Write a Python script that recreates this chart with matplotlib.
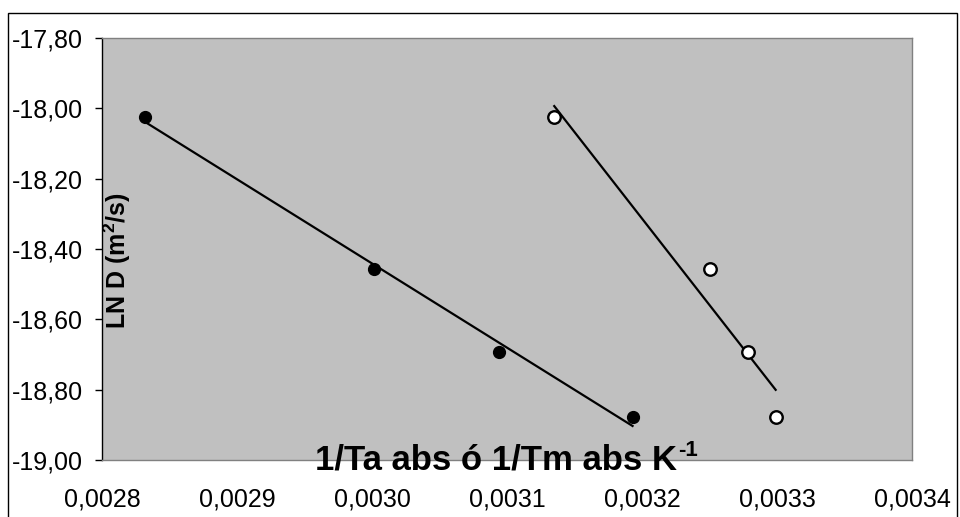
import numpy as np
import matplotlib
matplotlib.use("Agg")
import matplotlib.pyplot as plt
from matplotlib.ticker import FuncFormatter
from matplotlib.patches import Rectangle

# data
x_filled = [0.002832, 0.0030015, 0.003094, 0.003193]
y_filled = [-18.025, -18.457, -18.693, -18.878]
x_open = [0.003135, 0.00325, 0.0032785, 0.003299]
y_open = [-18.025, -18.457, -18.693, -18.878]

x_ticks = [0.0028, 0.0029, 0.0030, 0.0031, 0.0032, 0.0033, 0.0034]
y_ticks = [-19.0, -18.8, -18.6, -18.4, -18.2, -18.0, -17.8]

plt.rcParams['font.family'] = ['Liberation Sans', 'DejaVu Sans']
plt.rcParams['mathtext.fontset'] = 'custom'
plt.rcParams['mathtext.rm'] = 'Liberation Sans:bold'
plt.rcParams['mathtext.it'] = 'Liberation Sans:bold'
plt.rcParams['mathtext.bf'] = 'Liberation Sans:bold'

W, H = 960, 517
fig = plt.figure(figsize=(W / 100, H / 100), dpi=100)
ax = fig.add_axes([102 / W, (H - 460) / H, 810 / W, 422 / H])
ax.set_facecolor('#C0C0C0')

# outer border
fig.patches.append(Rectangle((8 / W, -0.05), (957 - 8) / W, (H - 13) / H + 0.05,
                             transform=fig.transFigure, fill=False,
                             edgecolor='black', linewidth=1.0))

# trendlines
for xs, ys in ((x_filled, y_filled), (x_open, y_open)):
    k, b = np.polyfit(xs, ys, 1)
    xx = np.array([min(xs), max(xs)])
    ax.plot(xx, k * xx + b, color='black', linewidth=1.6, zorder=2)

ax.plot(x_filled, y_filled, linestyle='none', marker='o', markersize=8.5,
        markerfacecolor='black', markeredgecolor='black', zorder=3)
ax.plot(x_open, y_open, linestyle='none', marker='o', markersize=9,
        markerfacecolor='white', markeredgecolor='black', markeredgewidth=1.7,
        zorder=3)

ax.set_xlim(0.0028, 0.0034)
ax.set_ylim(-19.0, -17.8)
ax.set_xticks(x_ticks)
ax.set_yticks(y_ticks)
ax.xaxis.set_major_formatter(FuncFormatter(lambda v, p: f"{v:.4f}".replace('.', ',')))
ax.yaxis.set_major_formatter(FuncFormatter(lambda v, p: f"{v:.2f}".replace('.', ',')))
ax.tick_params(axis='x', length=0, pad=20, labelsize=18)
ax.tick_params(axis='y', length=5, width=1, direction='out', pad=9, labelsize=18,
               color='black')

for s in ('top', 'right', 'bottom'):
    ax.spines[s].set_color('#808080')
    ax.spines[s].set_linewidth(1)
ax.spines['left'].set_color('black')
ax.spines['left'].set_linewidth(1)

# y label inside plot area
fig.text(117 / W, (H - 261) / H, r'LN D (m$^{2}$/s)',
         rotation=90, ha='center', va='center', fontsize=18, fontweight='bold')

# x label overlapping the bottom edge, with a hyphen superscript
renderer = fig.canvas.get_renderer()
main = fig.text(315 / W, (H - 470) / H, '1/Ta abs ó 1/Tm abs K',
                ha='left', va='baseline', fontsize=25, fontweight='bold')
bb = main.get_window_extent(renderer=renderer)
fig.text((bb.x1 + 1) / W, (H - 470 + 14) / H, '-1',
         ha='left', va='baseline', fontsize=16, fontweight='bold')

fig.savefig('out.png', dpi=100)
